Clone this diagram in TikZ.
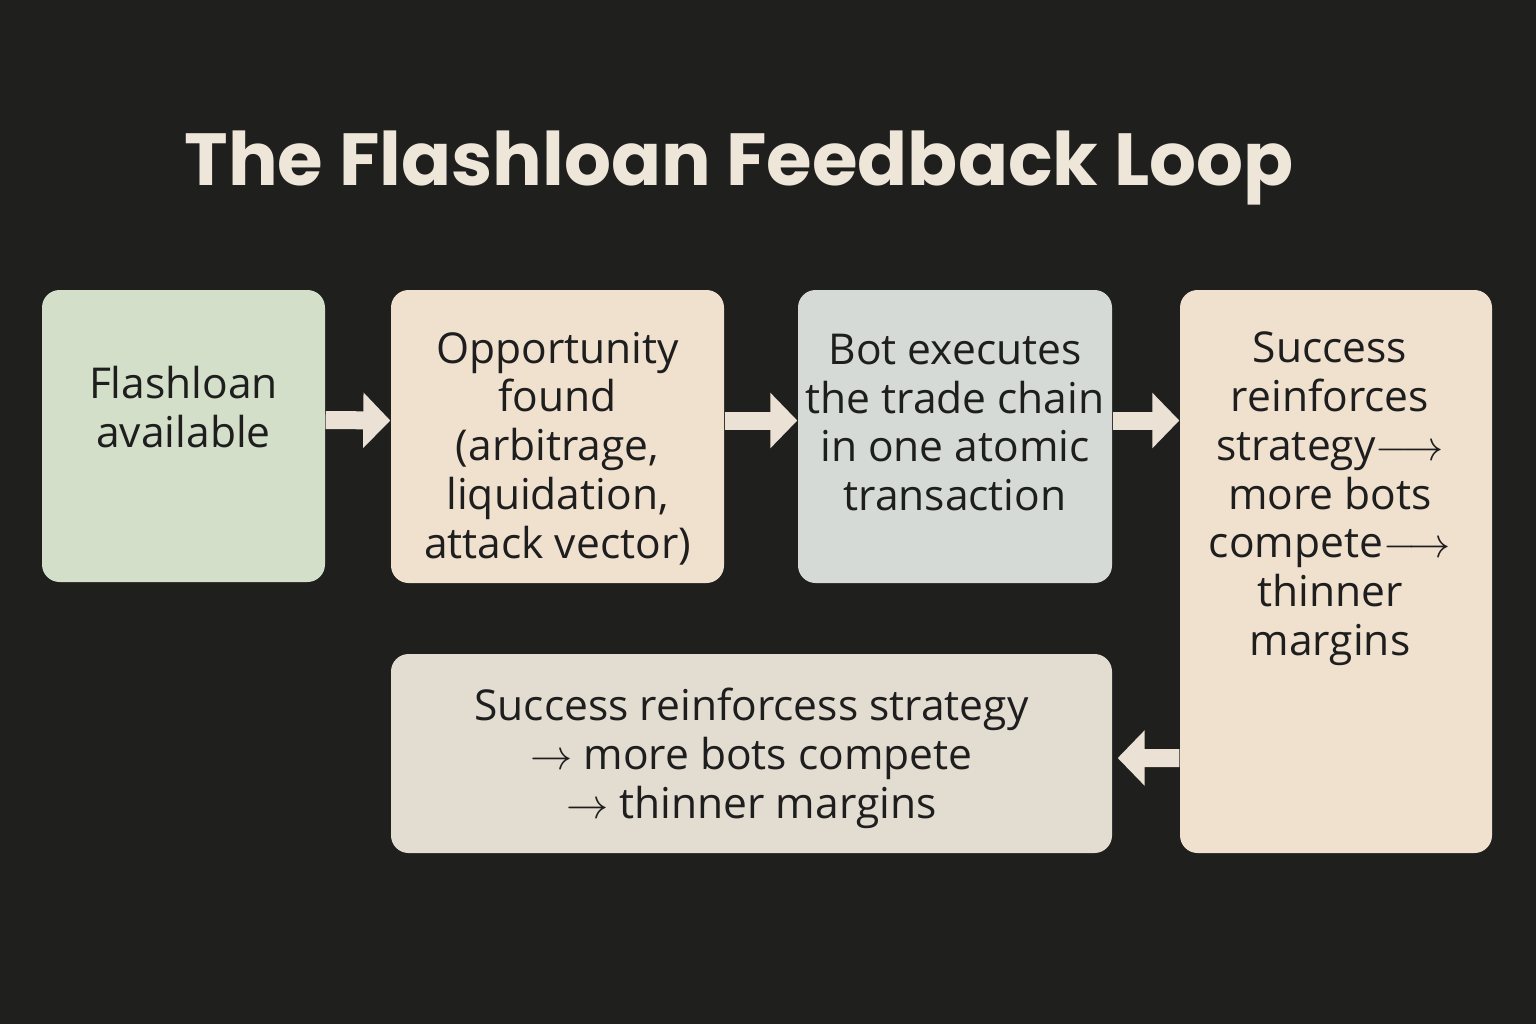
\documentclass[tikz,border=0pt]{standalone}
\usepackage{fontspec}
\setmainfont{Open Sans}
\newfontfamily\titlefont{Poppins}
\usepackage{tikz}
\usetikzlibrary{arrows.meta,positioning,calc}
\definecolor{LoopBg}{HTML}{1F1F1E}
\definecolor{LoopGreen}{HTML}{D4DFC9}
\definecolor{LoopPeach}{HTML}{F0E1CF}
\definecolor{LoopGrey}{HTML}{D5DAD7}
\definecolor{LoopSand}{HTML}{E3DCD1}
\definecolor{LoopArrow}{HTML}{EBE1D4}
\definecolor{LoopInk}{HTML}{1E1E1E}
\definecolor{LoopTitle}{HTML}{EFE6DA}

\begin{document}
\begin{tikzpicture}[
  box/.style={rounded corners=5pt, inner sep=0pt},
  txt/.style={align=center, inner sep=0pt, text=LoopInk,
              font=\fontsize{12.1}{13.9}\selectfont},
  arr/.style={-{Triangle[width=5.4mm, length=2.7mm]}, line width=1.8mm,
              draw=LoopArrow},
  title/.style={font=\titlefont\bfseries\fontsize{21}{24}\selectfont,
                text=LoopTitle}
]
\useasboundingbox (0,0) rectangle (15.36,-10.24);
\fill[LoopBg] (0,0) rectangle (15.36,-10.24);

\node[title, anchor=base] (head) at (7.39,-1.85) {The Flashloan Feedback Loop};

% boxes
\node[box, fill=LoopGreen, minimum width=2.83cm, minimum height=2.92cm]
  (flash) at (1.835,-4.36) {};
\node[box, fill=LoopPeach, minimum width=3.33cm, minimum height=2.93cm]
  (opp) at (5.575,-4.365) {};
\node[box, fill=LoopGrey, minimum width=3.14cm, minimum height=2.93cm]
  (bot) at (9.55,-4.365) {};
\node[box, fill=LoopPeach, minimum width=3.12cm, minimum height=5.63cm]
  (succ) at (13.36,-5.715) {};
\node[box, fill=LoopSand, minimum width=7.21cm, minimum height=1.99cm]
  (loop) at (7.515,-7.535) {};

% texts
\node[txt] (flashtext) at ([yshift=2.9mm]flash) {Flashloan\\available};
\node[txt] (opptext) at ([yshift=-1.2mm]opp)
  {Opportunity\\found\\(arbitrage,\\liquidation,\\attack vector)};
\node[txt] (bottext) at ([yshift=1.4mm]bot)
  {Bot executes\\the trade chain\\in one atomic\\transaction};
\node[txt, anchor=north] (succtext) at (13.30,-3.31)
  {Success\\reinforces\\strategy$\longrightarrow$\\more bots\\compete$\longrightarrow$\\thinner\\margins};
\node[txt] (looptext) at ([yshift=-0.5mm]loop)
  {Success reinforcess strategy\\$\rightarrow$ more bots compete\\$\rightarrow$ thinner margins};

\draw[arr] ([yshift=1.6mm]flash.east) -- ([yshift=1.6mm]opp.west);
\draw[arr] ([yshift=1.6mm]opp.east) -- ([yshift=1.6mm]bot.west);
\draw[arr] ([yshift=1.6mm]bot.east) coordinate (b) -- (b -| succ.west);
\draw[arr] (succ.west |- 0,-7.58) -- ([yshift=-0.45mm,xshift=0.5mm]loop.east);

\end{tikzpicture}
\end{document}
